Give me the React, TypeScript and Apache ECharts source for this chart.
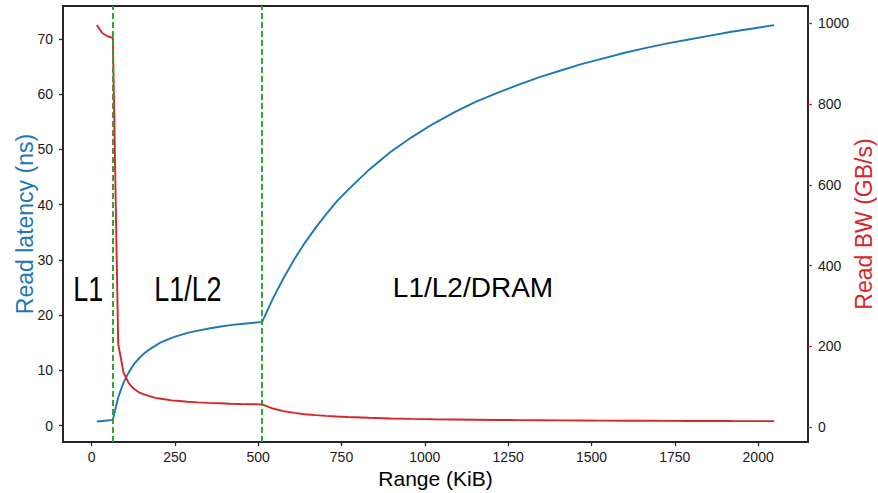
import React, { useEffect, useRef } from "react";
import * as echarts from "echarts";

// Working-set sizes (KiB)
const sizesKiB = [
  16, 32, 48, 64,
  80, 96, 112, 128, 144, 160, 176, 192, 208, 224, 240, 256, 288, 320, 352, 384, 416, 448, 480, 512,
  544, 576, 608, 640, 672, 704, 736, 768, 832, 896, 960, 1024, 1088, 1152, 1216, 1280, 1344, 1408,
  1472, 1536, 1600, 1664, 1728, 1792, 1856, 1920, 1984, 2048,
];

// Read latency (ns)
const latencyNs = [
  0.75, 0.85, 0.95, 1.05,
  5.1, 7.8, 9.7, 11.2, 12.3, 13.2, 13.9, 14.5, 15.1, 15.5, 15.9, 16.2, 16.8, 17.2, 17.6, 17.9, 18.2, 18.4, 18.6, 18.8,
  23.0, 26.7, 30.1, 33.1, 35.8, 38.3, 40.6, 42.6, 46.3, 49.5, 52.2, 54.6, 56.7, 58.6, 60.2, 61.7, 63.1, 64.3,
  65.5, 66.5, 67.5, 68.4, 69.2, 69.9, 70.6, 71.3, 71.9, 72.5,
];

// Read bandwidth (GB/s)
const bandwidthGBs = [
  996, 976, 968, 964,
  206, 135, 108, 94, 85, 80, 76, 72, 70, 68, 66, 65, 62.5, 61, 59.7, 58.7, 57.7, 57, 56.5, 55.9,
  45.7, 39.3, 34.9, 31.7, 29.3, 27.4, 25.9, 24.6, 22.7, 21.2, 20.1, 19.2, 18.5, 17.9, 17.4, 17.0, 16.6, 16.3,
  16.0, 15.8, 15.6, 15.4, 15.2, 15.0, 14.9, 14.7, 14.6, 14.5,
];

// Cache boundaries (KiB)
const boundariesKiB = [64, 512];

// Region names
const regionNames = ["L1", "L1/L2", "L1/L2/DRAM"];

// Tick labels
const xTicks = [0, 250, 500, 750, 1000, 1250, 1500, 1750, 2000];
const latencyTicks = [0, 10, 20, 30, 40, 50, 60, 70];
const bwTicks = [0, 200, 400, 600, 800, 1000];

const FONT = '"Liberation Sans", Arial, Helvetica, sans-serif';
const BLUE = "#1f77b4";
const RED = "#d62728";
const GREEN = "#2ca02c";
const INK = "#262626";

const plain = (v: number) => String(v);

export default function App() {
  const ref = useRef<HTMLDivElement>(null);

  useEffect(() => {
    const chart = echarts.init(ref.current!, null, { renderer: "svg" });

    const latencyData = sizesKiB.map((s, i) => [s, latencyNs[i]]);
    const bwData = sizesKiB.map((s, i) => [s, bandwidthGBs[i]]);

    const tickLabel = {
      fontSize: 14,
      color: "#1a1a1a",
      fontFamily: FONT,
      formatter: plain,
    };
    const spine = { show: true, onZero: false, lineStyle: { color: INK, width: 1.8 } };

    chart.setOption({
      animation: false,
      backgroundColor: "#ffffff",
      textStyle: { fontFamily: FONT },
      grid: {
        left: 63,
        right: 70,
        top: 6,
        bottom: 51,
        show: true,
        borderColor: INK,
        borderWidth: 1.8,
        backgroundColor: "transparent",
        containLabel: false,
        outerBoundsMode: "none",
      },
      xAxis: {
        type: "value",
        min: -85.6,
        max: 2149.6,
        name: "Range (KiB)",
        nameLocation: "middle",
        nameGap: 26,
        nameMoveOverlap: false,
        nameTextStyle: { fontSize: 21, color: "#000", fontFamily: FONT },
        axisLine: spine,
        axisTick: {
          show: true,
          length: 4,
          customValues: xTicks,
          lineStyle: { color: INK, width: 1.3 },
        },
        axisLabel: { ...tickLabel, customValues: xTicks, margin: 8 },
        splitLine: { show: false },
      },
      yAxis: [
        {
          type: "value",
          position: "left",
          min: -2.95,
          max: 75.97,
          name: "Read latency (ns)",
          nameLocation: "middle",
          nameGap: 27,
          nameMoveOverlap: false,
          nameRotate: 90,
          nameTextStyle: { fontSize: 23, color: BLUE, fontFamily: FONT },
          axisLine: spine,
          axisTick: {
            show: true,
            length: 4,
            customValues: latencyTicks,
            lineStyle: { color: INK, width: 1.3 },
          },
          axisLabel: { ...tickLabel, customValues: latencyTicks, margin: 10 },
          splitLine: { show: false },
        },
        {
          type: "value",
          position: "right",
          min: -37.2,
          max: 1043,
          name: "Read BW (GB/s)",
          nameLocation: "middle",
          nameGap: 44,
          nameMoveOverlap: false,
          nameRotate: 90,
          nameTextStyle: { fontSize: 23, color: RED, fontFamily: FONT },
          axisLine: spine,
          axisTick: {
            show: true,
            length: 4,
            customValues: bwTicks,
            lineStyle: { color: RED, width: 1.3 },
          },
          axisLabel: { ...tickLabel, customValues: bwTicks, margin: 10 },
          splitLine: { show: false },
        },
      ],
      series: [
        {
          name: "Read latency",
          type: "line",
          xAxisIndex: 0,
          yAxisIndex: 0,
          data: latencyData,
          showSymbol: false,
          symbol: "none",
          lineStyle: { color: BLUE, width: 1.9 },
          itemStyle: { color: BLUE },
          z: 2,
        },
        {
          name: "Read BW",
          type: "line",
          xAxisIndex: 0,
          yAxisIndex: 1,
          data: bwData,
          showSymbol: false,
          symbol: "none",
          lineStyle: { color: RED, width: 1.9 },
          itemStyle: { color: RED },
          z: 3,
          markLine: {
            silent: true,
            symbol: ["none", "none"],
            label: { show: false },
            lineStyle: { color: GREEN, type: [6, 3], width: 1.9 },
            data: boundariesKiB.map((b) => ({ xAxis: b })),
          },
        },
      ],
    });

    // Region annotations placed in data coordinates
    const anchors = [
      { x: -55, y: 24.7, size: 35, sx: 0.77 },
      { x: 188, y: 24.7, size: 35, sx: 0.77 },
      { x: 904, y: 25.0, size: 28, sx: 1 },
    ];
    const graphics = regionNames.map((name, i) => {
      const a = anchors[i];
      const p = chart.convertToPixel({ xAxisIndex: 0, yAxisIndex: 0 }, [a.x, a.y]) as number[];
      return {
        type: "text",
        x: p[0],
        y: p[1],
        scaleX: a.sx,
        z: 10,
        style: {
          text: name,
          fontSize: a.size,
          fontFamily: FONT,
          fill: "#000",
          align: "left",
          verticalAlign: "middle",
        },
      };
    });
    chart.setOption({ graphic: graphics });

    return () => chart.dispose();
  }, []);

  return (
    <div
      ref={ref}
      style={{ position: "fixed", left: 0, top: 0, width: 878, height: 493, background: "#fff" }}
    />
  );
}
